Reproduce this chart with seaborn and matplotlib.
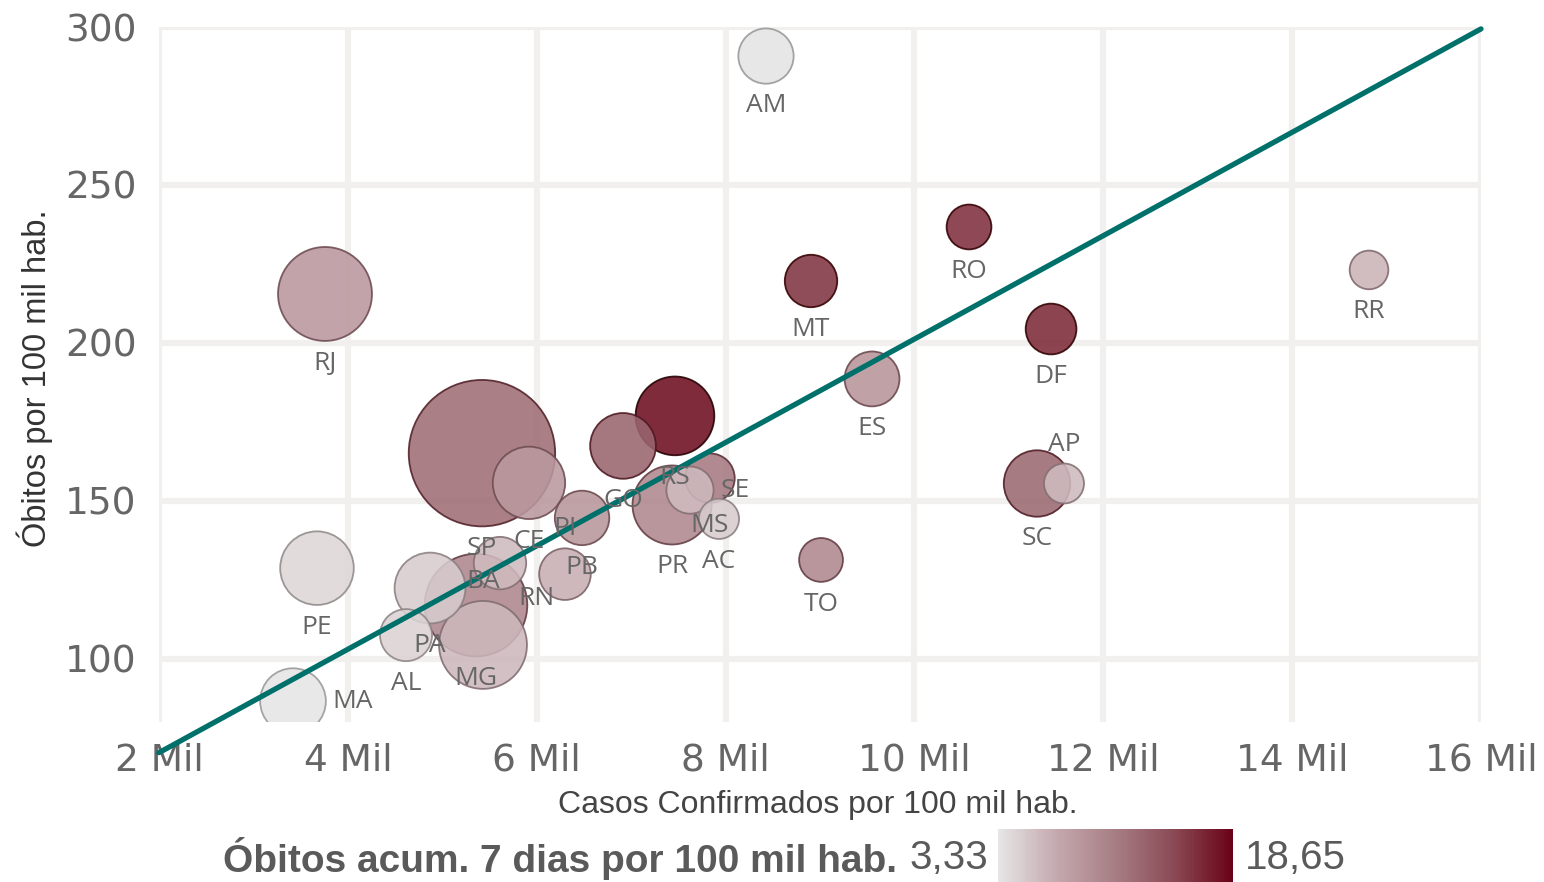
# Casos x Óbitos por 100 mil hab. - bolhas por UF
import numpy as np
import pandas as pd
import matplotlib
matplotlib.use("Agg")
import matplotlib.pyplot as plt
import seaborn as sns
from matplotlib.colors import LinearSegmentedColormap, Normalize
from matplotlib.cm import ScalarMappable

# Dados
estados = ["SP", "MG", "BA", "RJ", "PR", "RS", "PE", "CE", "PA", "SC", "MA", "GO", "AM", "ES",
           "PB", "RN", "MT", "AL", "PI", "DF", "MS", "SE", "RO", "TO", "AC", "AP", "RR"]
casos_100mil = [5420, 5357, 5431, 3758, 7433, 7464, 3673, 5918, 4870, 11298, 3419, 6914, 8428, 9551,
                6480, 5611, 8905, 4616, 6299, 11447, 7835, 7623, 10578, 9011, 7930, 11584, 14814]
obitos_100mil = [165.1, 117.0, 104.4, 215.5, 148.7, 176.9, 128.7, 155.7, 122.4, 155.5, 86.6, 167.4, 290.8, 188.6,
                 144.6, 130.3, 219.6, 107.5, 126.8, 204.4, 157.2, 153.4, 236.7, 131.3, 144.3, 155.5, 223.1]
obitos_7d = [12.2, 10.2, 6.2, 8.7, 10.0, 18.0, 4.3, 8.5, 5.0, 12.5, 3.4, 12.8, 3.5, 9.0,
             8.8, 6.0, 16.0, 4.6, 6.8, 16.5, 11.2, 6.0, 16.2, 10.0, 5.0, 6.0, 6.4]
populacao_mi = [46.3, 21.3, 14.9, 17.4, 11.5, 11.4, 9.6, 9.2, 8.7, 7.3, 7.1, 7.1, 4.2, 4.1,
                4.0, 3.5, 3.5, 3.4, 3.3, 3.1, 2.8, 2.3, 1.8, 1.6, 0.9, 0.86, 0.63]

# linha de tendência
tend_x = [2000, 16000]
tend_y = [70.3, 299.4]

escala_min, escala_max = 3.33, 18.65
x_ticks = [2000, 4000, 6000, 8000, 10000, 12000, 14000, 16000]
x_labels = ["2 Mil", "4 Mil", "6 Mil", "8 Mil", "10 Mil", "12 Mil", "14 Mil", "16 Mil"]
y_ticks = [100, 150, 200, 250, 300]

# posição do rótulo (padrão: abaixo)
pos_rotulo = {"AP": "cima", "BA": "cima", "PI": "cima", "MA": "direita", "SE": "direita", "RN": "diag"}

df = pd.DataFrame({
    "UF": estados,
    "casos": casos_100mil,
    "obitos": obitos_100mil,
    "obitos7d": obitos_7d,
    "pop": populacao_mi,
})

sns.set_style("white")
plt.rcParams["font.family"] = ["DejaVu Sans"]

cmap = LinearSegmentedColormap.from_list(
    "vinho", ["#e6e6e6", "#c4a8ad", "#a77d84", "#8a4a55", "#6a0217"])
norm = Normalize(escala_min, escala_max)

tam_min, tam_max = 776, 11114

fig = plt.figure(figsize=(15.44, 8.82), dpi=100)
ax = fig.add_axes([159 / 1544, 1 - 722 / 882, (1481 - 159) / 1544, (722 - 27) / 882])

sns.scatterplot(
    data=df, x="casos", y="obitos",
    hue="obitos7d", palette=cmap, hue_norm=norm,
    size="pop", sizes=(tam_min, tam_max), size_norm=(min(populacao_mi), max(populacao_mi)),
    alpha=0.88, linewidth=1.3, legend=False, ax=ax, zorder=3,
)

# borda mais escura que o preenchimento
cores = np.array(cmap(norm(df["obitos7d"].values)))[:, :3]
bordas = np.clip(cores - 0.3, 0, 1)
ax.collections[0].set_edgecolor(bordas)

sns.lineplot(x=tend_x, y=tend_y, color="#00706b", linewidth=3.8, ax=ax, zorder=4, clip_on=False)

# rótulos das UFs
pmin, pmax = min(populacao_mi), max(populacao_mi)
for uf, x, y, p in zip(estados, casos_100mil, obitos_100mil, populacao_mi):
    s = tam_min + (p - pmin) / (pmax - pmin) * (tam_max - tam_min)
    r = np.sqrt(s) / 2
    pos = pos_rotulo.get(uf, "baixo")
    if pos == "cima":
        off, ha = (0, r + 14), "center"
    elif pos == "direita":
        off, ha = (r + 5, 0), "left"
    elif pos == "diag":
        off, ha = (r * 0.75 + 12, -(r * 0.75 + 11)), "center"
    else:
        off, ha = (0, -(r + 16)), "center"
    ax.annotate(uf, (x, y), xytext=off, textcoords="offset points", ha=ha, va="center",
                fontsize=19, color="#666666", family=["Open Sans", "DejaVu Sans"], zorder=5)

ax.set_xlim(2000, 16000)
ax.set_ylim(80, 300)
ax.set_xticks(x_ticks)
ax.set_xticklabels(x_labels)
ax.set_yticks(y_ticks)
ax.grid(True, color="#f2f0ee", linewidth=4.5)
ax.set_axisbelow(True)
sns.despine(ax=ax, left=True, bottom=True)
ax.tick_params(axis="both", length=0, labelsize=27, labelcolor="#666666")
ax.tick_params(axis="x", pad=15)
ax.tick_params(axis="y", pad=16)

ax.set_xlabel("")
ax.set_ylabel("")
fig.text(818 / 1544, 1 - 805 / 882, "Casos Confirmados por 100 mil hab.", ha="center", va="center",
         fontsize=23, color="#444444", family=["Liberation Sans", "DejaVu Sans"])
fig.text(35 / 1544, 1 - 378 / 882, "Óbitos por 100 mil hab.", ha="center", va="center", rotation=90,
         fontsize=23.5, color="#333333", family=["Liberation Sans Narrow", "Liberation Sans", "DejaVu Sans"])

# legenda de cor
cax = fig.add_axes([998 / 1544, 0, 235 / 1544, 53 / 882])
cb = fig.colorbar(ScalarMappable(norm=norm, cmap=cmap), cax=cax, orientation="horizontal")
cb.outline.set_visible(False)
cax.set_xticks([])

fig.text(897 / 1544, 1 - 858 / 882, "Óbitos acum. 7 dias por 100 mil hab.", ha="right", va="center",
         fontsize=28, fontweight="bold", color="#5a5a5a",
         family=["Liberation Sans Narrow", "Liberation Sans", "DejaVu Sans"])
fig.text(988 / 1544, 1 - 858 / 882, "3,33", ha="right", va="center", fontsize=29, color="#5a5a5a",
         family=["Liberation Sans Narrow", "Liberation Sans", "DejaVu Sans"])
fig.text(1245 / 1544, 1 - 858 / 882, "18,65", ha="left", va="center", fontsize=29, color="#5a5a5a",
         family=["Liberation Sans Narrow", "Liberation Sans", "DejaVu Sans"])

fig.savefig("out.png", dpi=100)
